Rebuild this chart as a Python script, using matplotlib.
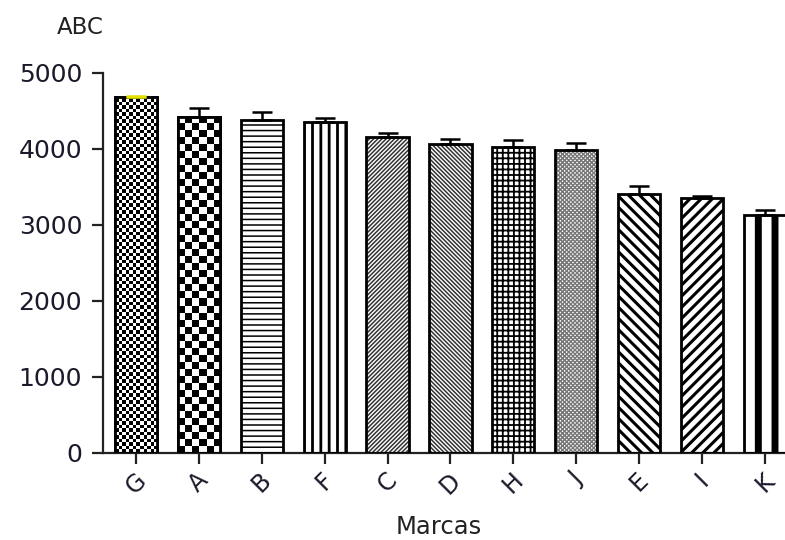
import numpy as np
import matplotlib
matplotlib.use("Agg")
import matplotlib.pyplot as plt

categories = ["G", "A", "B", "F", "C", "D", "H", "J", "E", "I", "K"]
values = [4685, 4420, 4380, 4355, 4160, 4065, 4025, 3990, 3410, 3355, 3130]
errors = [8, 115, 105, 55, 55, 65, 95, 85, 105, 25, 65]
y_ticks = [0, 1000, 2000, 3000, 4000, 5000]

# fill style per bar: (kind, hatch, hatch linewidth, hatch colour)
styles = [
    ("checker", 12, None, None),
    ("checker", 6, None, None),
    ("hatch", "---", 1.1, "black"),
    ("hatch", "||", 2.0, "black"),
    ("hatch", "/" * 8, 1.1, "#333333"),
    ("hatch", "\\" * 8, 1.1, "#333333"),
    ("hatch", "+++", 1.3, "black"),
    ("hatch", "x" * 8, 1.0, "#777777"),
    ("hatch", "\\" * 3, 2.2, "black"),
    ("hatch", "/" * 3, 2.2, "black"),
    ("hatch", "|", 5.0, "black"),
]
err_colors = ["#e6e000"] + ["black"] * 10

W, H = 785, 540
fig = plt.figure(figsize=(W / 100, H / 100), dpi=100)
ax = fig.add_axes([103 / W, 87 / H, 682 / W, 380 / H])
x = np.arange(len(categories))
bw = 0.67
xlim = (-0.525, 10.32)
ylim = (0, 5000)
ax.set_xlim(*xlim)
ax.set_ylim(*ylim)

ax_w_px = 682
ax_h_px = 380
px_per_x = ax_w_px / (xlim[1] - xlim[0])
px_per_y = ax_h_px / (ylim[1] - ylim[0])

edge_lw = 2.0
for i, (xi, v, st) in enumerate(zip(x, values, styles)):
    kind = st[0]
    if kind == "checker":
        n = st[1]
        bar = ax.bar(xi, v, bw, color="white", edgecolor="black", linewidth=edge_lw, zorder=2)[0]
        sq_px = bw * px_per_x / n
        rows = int(round(v * px_per_y / sq_px))
        arr = (np.indices((rows, n)).sum(axis=0) % 2).astype(float)
        im = ax.imshow(arr, cmap="gray", extent=(xi - bw / 2, xi + bw / 2, 0, rows * sq_px / px_per_y),
                       aspect="auto", interpolation="nearest", zorder=2.5, origin="lower")
        im.set_clip_path(bar)
    else:
        _, hatch, hlw, hcol = st
        with plt.rc_context({"hatch.linewidth": hlw}):
            b = ax.bar(xi, v, bw, color="white", edgecolor=hcol, hatch=hatch, linewidth=0, zorder=2)[0]
            if hasattr(b, "set_hatch_linewidth"):
                b.set_hatch_linewidth(hlw)
    ax.bar(xi, v, bw, fill=False, edgecolor="black", linewidth=edge_lw, zorder=3)
    ax.errorbar(xi, v, yerr=[[0], [errors[i]]], fmt="none", ecolor=err_colors[i],
                elinewidth=1.8, capsize=7.5, capthick=1.8, zorder=4)

ax.set_xlim(*xlim)
ax.set_ylim(*ylim)
ax.set_aspect("auto")

for s in ["top", "right"]:
    ax.spines[s].set_visible(False)
for s in ["left", "bottom"]:
    ax.spines[s].set_linewidth(1.6)
    ax.spines[s].set_color("#222222")

ax.set_yticks(y_ticks)
ax.set_yticklabels([str(t) for t in y_ticks], fontsize=18, color="#1a1a2a", family="DejaVu Sans")
ax.set_xticks(x)
ax.set_xticklabels(categories, fontsize=17, rotation=45, ha="center", color="#1a1a2a", family="DejaVu Sans")
ax.tick_params(axis="both", direction="out", length=8, width=1.6, color="#222222")
ax.tick_params(axis="y", pad=7)
ax.tick_params(axis="x", pad=3)

fig.text(80 / W, 1 - 27 / H, "ABC", fontsize=16.5, ha="center", va="center", family="DejaVu Sans", color="#222222")
fig.text(439 / W, 1 - 527 / H, "Marcas", fontsize=17.5, ha="center", va="center", family="DejaVu Sans", color="#222222")

fig.savefig("out.png", dpi=100)
